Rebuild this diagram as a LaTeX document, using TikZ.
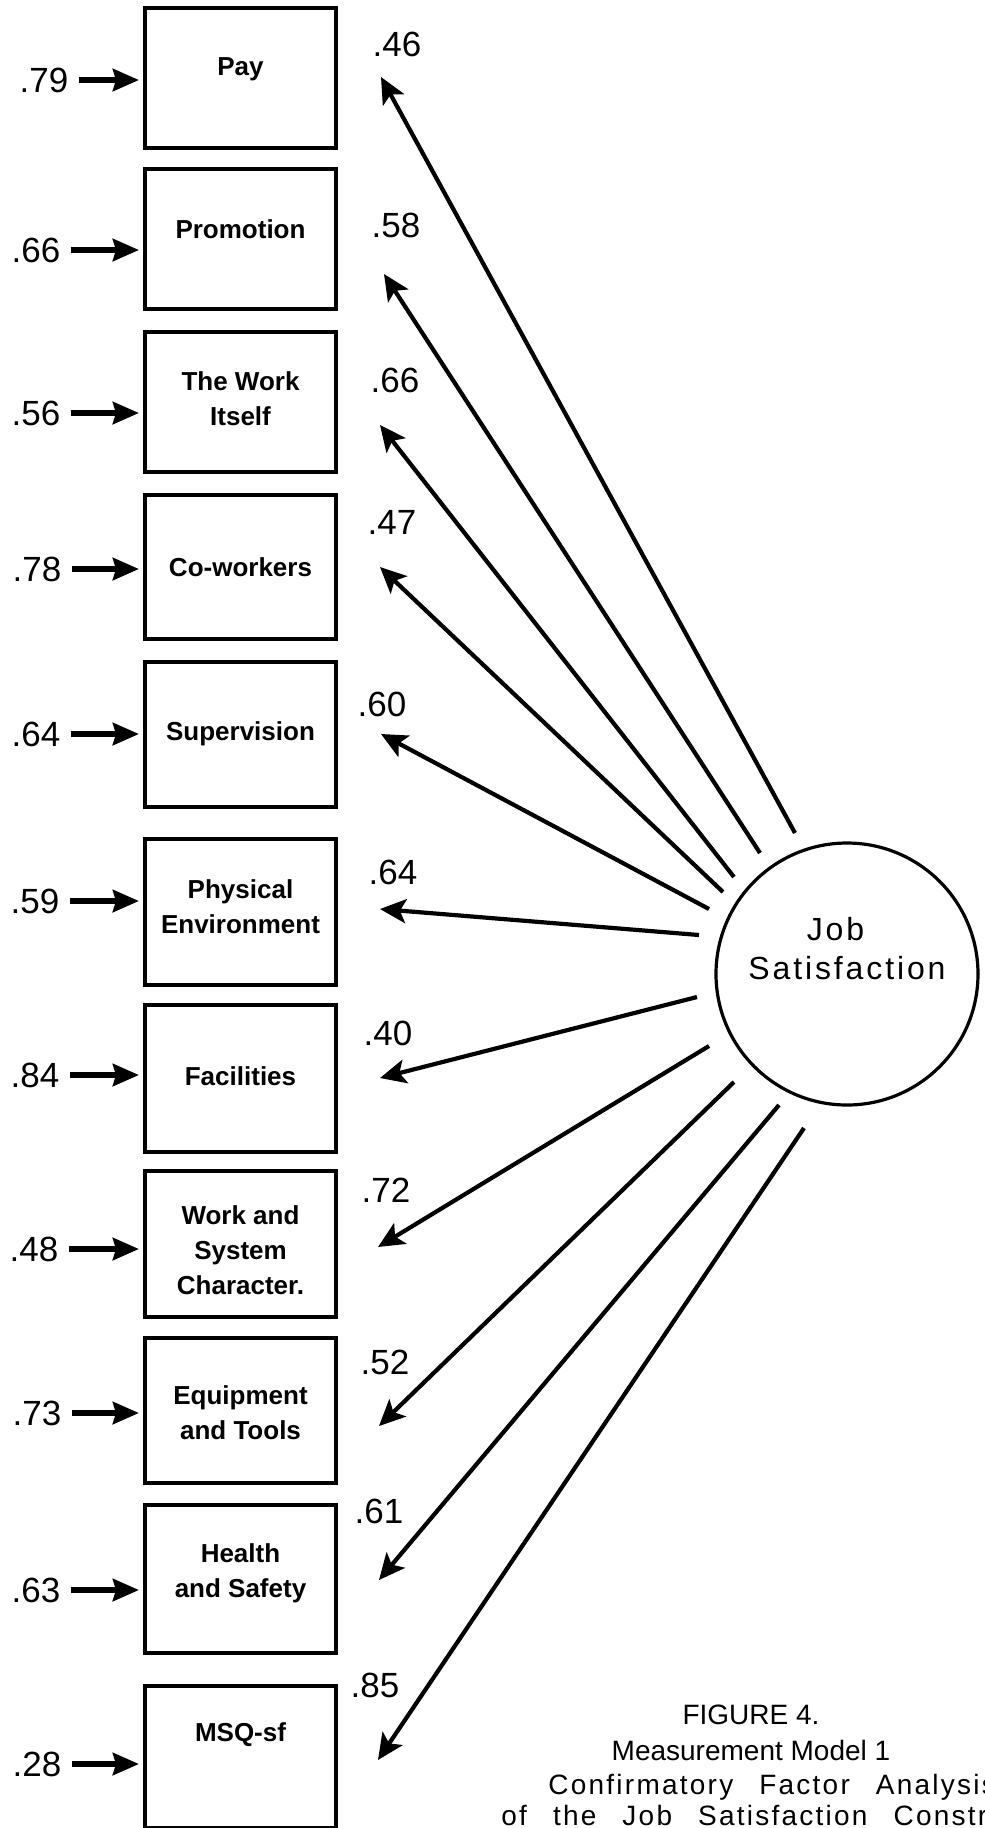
\documentclass[tikz,border=0pt]{standalone}
\usepackage{fontspec}
\setmainfont{Liberation Sans}
\newfontfamily\spacedsans[LetterSpace=9]{Liberation Sans}
\newfontfamily\widesans[LetterSpace=8,WordSpace=2.6]{Liberation Sans}
\usetikzlibrary{arrows.meta}

\begin{document}
\begin{tikzpicture}[x=0.5pt,y=-0.5pt,
  box/.style={draw, line width=2pt, minimum width=95.5pt, inner sep=0pt},
  boxtext/.style={font=\bfseries\fontsize{13}{17.5}\selectfont, align=center, inner sep=0pt},
  num/.style={font=\fontsize{17.5}{19}\selectfont, inner sep=0pt},
  errarrow/.style={line width=2.8pt, shorten <=5pt, shorten >=2pt,
    -{Stealth[length=13pt,width=11pt,inset=1.5pt]}},
  loadarrow/.style={line width=2.1pt, -{Stealth[length=13pt,width=12pt,inset=3pt]}},
  latent/.style={draw, circle, line width=1.6pt, minimum size=131pt, inner sep=0pt},
  lattext/.style={font=\spacedsans\fontsize{16}{19.5}\selectfont, align=center, inner sep=0pt},
  captext/.style={font=\fontsize{14}{18}\selectfont, anchor=base, inner sep=0pt},
  capwide/.style={font=\widesans\fontsize{14}{18}\selectfont, anchor=base west, inner sep=0pt}
]
\useasboundingbox (0,0) rectangle (985,1828);
\clip (0,0) rectangle (985,1828);

% observed indicators: name / top / bottom / text centre / label
\foreach \n/\top/\bot/\ty/\txt in {
  pay/8/148/69/Pay,
  prom/169/309/229/Promotion,
  work/332/472/399/{The Work\\Itself},
  cow/495/639/567/Co-workers,
  sup/662/807/734/Supervision,
  phys/839/985/907/{Physical\\Environment},
  fac/1005/1152/1076/Facilities,
  wsc/1171/1317/1250/{Work and\\System\\Character.},
  equ/1338/1483/1413/{Equipment\\and Tools},
  hs/1505/1653/1573/{Health\\and Safety},
  msq/1686/1828/1735/MSQ-sf}
{
  \pgfmathsetmacro\cy{(\top+\bot)/2}
  \pgfmathsetmacro\hh{(\bot-\top)*0.5}
  \node[box, minimum height=\hh pt] (\n) at (240.5,\cy) {};
  \node[boxtext] (\n-txt) at (240.5,\ty) {\txt};
}

% error terms feeding each indicator
\foreach \n/\e/\x/\y in {
  pay/.79/44/80, prom/.66/36/250, work/.56/36/413, cow/.78/37/569,
  sup/.64/36/734, phys/.59/35/901, fac/.84/35/1075, wsc/.48/34/1249,
  equ/.73/37/1413, hs/.63/36/1590, msq/.28/37/1764}
{
  \node[num] (err-\n) at (\x,\y) {\e};
  \draw[errarrow] (err-\n.east) -- (err-\n.east -| \n.west);
}

% latent factor
\node[latent] (js) at (847,974) {};
\node[lattext] (js-txt) at (847,949) {Job\rule{11.5pt}{0pt}\\Satisfaction};

% loadings: name / value / label position / tip / tail offset from factor centre
\foreach \n/\v/\lx/\ly/\hx/\hy/\dx/\dy in {
  pay/.46/397/44/381/77/-52/-141,
  prom/.58/396/225/384/274/-87/-121,
  work/.66/395/380/380/425/-113/-97,
  cow/.47/392/522/380/567/-124/-82,
  sup/.60/382/704/381/734/-138/-65,
  phys/.64/393/872/380/909/-148/-39,
  fac/.40/388/1033/380/1078/-150/23,
  wsc/.72/386/1190/378/1247/-138/72,
  equ/.52/385/1362/379/1426/-113/108,
  hs/.61/379/1511/379/1580/-68/131,
  msq/.85/375/1685/378/1760/-43/154}
{
  \node[num] (ld-\n) at (\lx,\ly) {\v};
  \coordinate (tip-\n) at (\hx,\hy);
  \path (js.center) ++(\dx,\dy) coordinate (tail-\n);
  \draw[loadarrow] (tail-\n) -- (tip-\n);
}

% figure caption
\node[captext] (cap1) at (751,1724) {FIGURE 4.};
\node[captext] (cap2) at (751,1760) {Measurement Model 1};
\node[capwide] (cap3) at (548,1794) {Confirmatory Factor Analysis};
\node[capwide] (cap4) at (501,1825) {of the Job Satisfaction Construct};
\end{tikzpicture}
\end{document}
